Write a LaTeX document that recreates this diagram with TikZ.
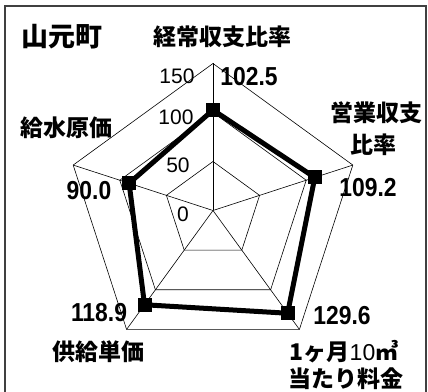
\documentclass[tikz,border=0pt]{standalone}
\usepackage{fontspec}
\setmainfont{Liberation Sans}
\newfontfamily\jp{Noto Sans CJK JP}
\newfontfamily\numb{Liberation Sans}[FakeStretch=0.88]
\definecolor{framegray}{HTML}{404040}
\tikzset{
  gridline/.style={draw=black, line width=0.6pt},
  dataline/.style={draw=black, line width=5pt, line join=miter},
  mk/.style={fill=black, draw=none, minimum size=14pt, inner sep=0pt, shape=rectangle},
  jlab/.style={font=\jp\bfseries\fontsize{23}{23}\selectfont, inner sep=0pt},
  titlelab/.style={font=\jp\bfseries\fontsize{27}{27}\selectfont, inner sep=0pt},
  vallab/.style={font=\numb\bfseries\fontsize{26}{26}\selectfont, inner sep=0pt},
  ticklab/.style={font=\fontsize{21}{21}\selectfont, inner sep=0pt},
}
\begin{document}
\begin{tikzpicture}[x=1pt,y=1pt]
\useasboundingbox (0,0) rectangle (428,391);
\draw[framegray, line width=1.5pt] (5,-10) rectangle (426,385);
\begin{scope}[shift={(213,180.5)}]
  \foreach \r in {49,98,147} {
    \draw[gridline] (90:\r) -- (18:\r) -- (-54:\r) -- (234:\r) -- (162:\r) -- cycle;
  }
  \coordinate (c) at (0,0);
  \foreach \a/\n in {90/ta,18/tb,-54/tc,234/td,162/te} {
    \coordinate (\n) at (\a:147);
    \draw[gridline] (c) -- (\n);
  }
  \coordinate (pa) at (90:100.45);
  \coordinate (pb) at (18:107.0);
  \coordinate (pc) at (-54:127.0);
  \coordinate (pd) at (234:116.5);
  \coordinate (pe) at (162:88.2);
  \draw[dataline] (pa) -- (pb) -- (pc) -- (pd) -- (pe) -- cycle;
  \foreach \n in {pa,pb,pc,pd,pe} { \node[mk] (m\n) at (\n) {}; }
\end{scope}
\node[titlelab] (title) at (62,354) {山元町};
\node[jlab] (la) at (222,354) {経常収支比率};
\node[jlab] (lb1) at (376,278) {営業収支};
\node[jlab] (lb2) at (373,246) {比率};
\node[jlab] (ld) at (98,39) {供給単価};
\node[jlab] (le) at (66,263) {給水原価};
\node[jlab] (lc1) at (344,39) {1ヶ月{\mdseries\rmfamily 10}㎥};
\node[jlab] (lc2) at (346,12) {当たり料金};
\node[ticklab] (t150) at (177,315) {150};
\node[ticklab] (t100) at (176,274) {100};
\node[ticklab] (t50) at (178,226) {50};
\node[ticklab] (t0) at (183,177) {0};
\node[vallab] (va) at (249,314) {102.5};
\node[vallab] (vb) at (368,203) {109.2};
\node[vallab] (vc) at (342,75) {129.6};
\node[vallab] (vd) at (99,78) {118.9};
\node[vallab] (ve) at (89,200) {90.0};
\end{tikzpicture}
\end{document}
